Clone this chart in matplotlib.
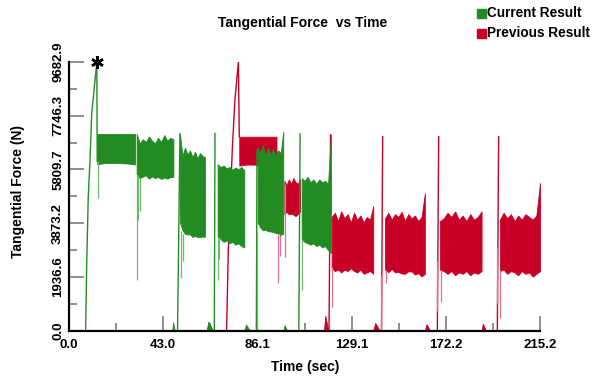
import numpy as np
import matplotlib
matplotlib.use("Agg")
import matplotlib.pyplot as plt
from matplotlib.patches import Rectangle

plt.rcParams['font.family'] = ['Liberation Sans', 'DejaVu Sans']

VERDE = '#228b22'
VERMELHO = '#c80028'
ROSA = '#e07090'

X_MAX = 215.2
Y_MAX = 9682.9
X_TICKS = [0.0, 43.04, 86.08, 129.12, 172.16, 215.2]
X_TICK_LABELS = ['0.0', '43.0', '86.1', '129.1', '172.2', '215.2']
Y_TICKS = [0.0, 1936.6, 3873.2, 5809.7, 7746.3, 9682.9]
Y_TICK_LABELS = ['0.0', '1936.6', '3873.2', '5809.7', '7746.3', '9682.9']

# --- resultado atual (verde) ---
# faixas de ruido: inicio, fim, bordas superior e inferior
VERDE_INICIO = [12.9, 30.9, 50.7, 67.9, 86.2, 106.3]
VERDE_FIM = [30.2, 47.7, 62.1, 80.1, 97.9, 119.7]
VERDE_TOPO = [
    [7090, 7090, 7090, 7090, 7090, 7090],
    [7090, 6750, 6900, 6800, 7000, 6850, 6750, 6950, 6800, 7050, 6850, 6950, 6900],
    [7090, 6300, 6600, 6350, 6500, 6250, 6450, 6200, 6400, 6300, 6250],
    [6000, 5900, 5950, 5850, 5900, 5800, 5880, 5820, 5900, 5780],
    [6600, 6400, 6700, 6300, 6600, 6350, 6550, 6300, 6500, 6400, 7170],
    [5500, 5400, 5550, 5350, 5450, 5300, 5450, 5350, 5400, 5300, 7060],
]
VERDE_BASE = [
    [6000, 6060, 6030, 6050, 6020, 6040, 6010, 6050, 5990],
    [5650, 5500, 5550, 5600, 5480, 5560, 5500, 5540, 5470, 5520, 5480, 5530, 5550],
    [3900, 3550, 3450, 3500, 3380, 3420, 3350, 3400, 3380],
    [3400, 3300, 3200, 3250, 3150, 3200, 3100, 3150, 3050, 3000],
    [3900, 3700, 3600, 3650, 3550, 3600, 3500, 3550, 3450, 3500],
    [3300, 3200, 3150, 3100, 3150, 3050, 3100, 3000, 3050, 2900, 2800],
]
# subida inicial ate o pico
VERDE_RAMPA_T = [7.6, 8.1, 8.8, 9.6, 10.4, 11.6, 12.7, 12.9]
VERDE_RAMPA_F = [0, 2440, 4830, 6150, 7840, 8790, 9683, 6100]
# subidas rapidas (t0, t1, altura)
VERDE_SUBIDA_T0 = [49.6, 66.4, 85.6, 105.0]
VERDE_SUBIDA_T1 = [50.7, 66.7, 85.9, 105.6]
VERDE_SUBIDA_F = [7090, 7110, 6500, 7090]
# picos para baixo (t, min, max)
VERDE_PICO_T = [13.1, 31.1, 31.6, 32.3, 51.3, 52.0, 68.0, 68.6, 106.6, 85.7]
VERDE_PICO_MIN = [4780, 1830, 3990, 4300, 1900, 2500, 1830, 2600, 1470, 0]
VERDE_PICO_MAX = [6100, 5600, 5600, 5500, 3600, 3500, 3400, 3300, 3300, 3600]
# pequenos montes perto do zero (inicio, fim, altura)
VERDE_MONTE_INICIO = [47.2, 62.8, 80.1, 98.0]
VERDE_MONTE_FIM = [48.3, 65.8, 82.7, 99.6]
VERDE_MONTE_F = [300, 330, 220, 200]

# --- resultado anterior (vermelho) ---
VERM_INICIO = [77.8, 98.4, 120.0, 144.4, 169.5, 196.9]
VERM_FIM = [94.8, 105.6, 139.0, 162.6, 188.5, 215.2]
VERM_TOPO = [
    [6990, 6990, 6990, 6990, 6990, 6990],
    [5400, 5250, 5450, 5300, 5500, 5350, 5300, 5450],
    [4100, 4250, 3950, 4300, 4050, 4200, 3900, 4250, 4000, 4150, 3900, 4100, 4000, 4490],
    [4050, 4250, 4000, 4200, 4100, 4280, 3950, 4200, 4050, 4150, 3950, 4100, 4950],
    [3950, 4050, 4250, 4100, 4300, 4000, 4150, 3950, 4200, 4000, 4100, 4300],
    [4000, 4250, 4050, 4200, 3950, 4150, 4000, 4200, 4100, 4000, 4150, 5320],
]
VERM_BASE = [
    [5950, 6000, 5970, 5990, 5940, 5980, 5960, 5900],
    [4200, 4300, 4150, 4250, 4100, 4200, 4300],
    [2250, 2150, 2200, 2100, 2200, 2150, 2250, 2150, 2100, 2200, 2050, 2100, 2150, 2050],
    [2200, 2100, 2250, 2050, 2150, 2000, 2100, 2200, 2000, 2100, 1950, 2050],
    [2200, 2150, 2050, 2150, 2000, 2100, 2050, 2150, 2000, 2100, 2050, 2150],
    [2150, 2200, 2050, 2150, 2100, 2000, 2150, 2050, 2100, 1950, 2050, 2150],
]
VERM_RAMPA_T = [72.0, 72.8, 74.6, 75.8, 77.4, 77.8]
VERM_RAMPA_F = [0, 2910, 6510, 8313, 9690, 6990]
VERM_SUBIDA_T0 = [118.8, 142.8, 168.3, 195.7]
VERM_SUBIDA_T1 = [119.5, 143.3, 168.9, 196.3]
VERM_SUBIDA_F = [7060, 6990, 6990, 6990]
VERM_PICO_T = [95.6, 96.6, 98.6, 120.2, 142.4, 144.7, 168.0, 169.8, 195.4, 197.1]
VERM_PICO_MIN = [1720, 2700, 2670, 865, 0, 1720, 700, 1045, 1000, 460]
VERM_PICO_MAX = [6000, 5500, 5300, 2300, 2000, 2200, 2500, 2200, 3000, 2200]
VERM_MONTE_INICIO = [116.5, 139.0, 162.6, 188.5]
VERM_MONTE_FIM = [118.5, 142.0, 165.0, 190.5]
VERM_MONTE_F = [540, 280, 230, 250]


def desenhar_serie(ax, inicio, fim, topo, base, rampa_t, rampa_f,
                   sub_t0, sub_t1, sub_f, pico_t, pico_min, pico_max,
                   monte_ini, monte_fim, monte_f, cor, cor_fina, z):
    for t0, t1, hi, lo in zip(inicio, fim, topo, base):
        th = np.linspace(t0, t1, len(hi))
        tl = np.linspace(t0, t1, len(lo))
        lo_i = np.interp(th, tl, lo)
        ax.fill_between(th, lo_i, hi, color=cor, lw=0.6, zorder=z)
    ax.plot(rampa_t, rampa_f, color=cor, lw=1.0, zorder=z)
    for t0, t1, f in zip(sub_t0, sub_t1, sub_f):
        ax.plot([t0, t1], [0, f], color=cor, lw=1.0, zorder=z)
    ax.vlines(pico_t, pico_min, pico_max, color=cor_fina, lw=0.9, zorder=z)
    for t0, t1, f in zip(monte_ini, monte_fim, monte_f):
        ax.fill_between([t0, t0 + (t1 - t0) * 0.3, t1], [0, 0, 0], [0, f, 0],
                        color=cor, lw=0.6, zorder=z)


fig = plt.figure(figsize=(5.97, 3.81), dpi=100)
ax = fig.add_axes([69 / 597, 1 - 330.7 / 381, 471 / 597, (330.7 - 62) / 381])

desenhar_serie(ax, VERM_INICIO, VERM_FIM, VERM_TOPO, VERM_BASE,
               VERM_RAMPA_T, VERM_RAMPA_F, VERM_SUBIDA_T0, VERM_SUBIDA_T1, VERM_SUBIDA_F,
               VERM_PICO_T, VERM_PICO_MIN, VERM_PICO_MAX,
               VERM_MONTE_INICIO, VERM_MONTE_FIM, VERM_MONTE_F, VERMELHO, ROSA, 2)
desenhar_serie(ax, VERDE_INICIO, VERDE_FIM, VERDE_TOPO, VERDE_BASE,
               VERDE_RAMPA_T, VERDE_RAMPA_F, VERDE_SUBIDA_T0, VERDE_SUBIDA_T1, VERDE_SUBIDA_F,
               VERDE_PICO_T, VERDE_PICO_MIN, VERDE_PICO_MAX,
               VERDE_MONTE_INICIO, VERDE_MONTE_FIM, VERDE_MONTE_F, VERDE, '#6fb86f', 3)

# marcador do pico maximo
ax.plot(VERDE_RAMPA_T[6], Y_MAX, marker=(6, 2, 0), ms=9, mew=1.8, color='black',
        clip_on=False, zorder=6)

ax.set_xlim(0, X_MAX)
ax.set_ylim(0, Y_MAX)
ax.set_xticks(X_TICKS)
ax.set_xticklabels(X_TICK_LABELS, fontweight='bold', fontsize=9.5)
ax.set_xticks([(a + b) / 2 for a, b in zip(X_TICKS[:-1], X_TICKS[1:])], minor=True)
ax.set_yticks(Y_TICKS)
ax.set_yticklabels(Y_TICK_LABELS, fontweight='bold', fontsize=9.5, rotation=90, va='center')
ax.set_yticks([(a + b) / 2 for a, b in zip(Y_TICKS[:-1], Y_TICKS[1:])], minor=True)
ax.tick_params(which='major', direction='in', length=11, width=1.1, color='#707070', pad=6)
ax.tick_params(axis='y', which='major', pad=3.5)
ax.tick_params(which='minor', direction='in', length=5.5, width=1.1, color='#707070')
for lado in ['top', 'right']:
    ax.spines[lado].set_visible(False)
for lado in ['left', 'bottom']:
    ax.spines[lado].set_linewidth(1.6)
    ax.spines[lado].set_zorder(7)

fig.text(303 / 597, 1 - 23 / 381, 'Tangential Force  vs Time', ha='center', va='center',
         fontsize=10, fontweight='bold')
fig.text(18 / 597, 1 - 192 / 381, 'Tangential Force (N)', ha='center', va='center',
         rotation=90, fontsize=10, fontweight='bold')
fig.text(305 / 597, 1 - 367 / 381, 'Time (sec)', ha='center', va='center',
         fontsize=10, fontweight='bold')

# legenda manual
for i, (cor, rotulo) in enumerate([(VERDE, 'Current Result'), (VERMELHO, 'Previous Result')]):
    yc = 13 + 20 * i
    fig.patches.append(Rectangle((477 / 597, 1 - (yc + 4.5) / 381), 9.3 / 597, 9 / 381,
                                 transform=fig.transFigure, color=cor))
    fig.text(487 / 597, 1 - yc / 381, rotulo, ha='left', va='center',
             fontsize=9.8, fontweight='bold')

fig.savefig('out.png', dpi=100)
